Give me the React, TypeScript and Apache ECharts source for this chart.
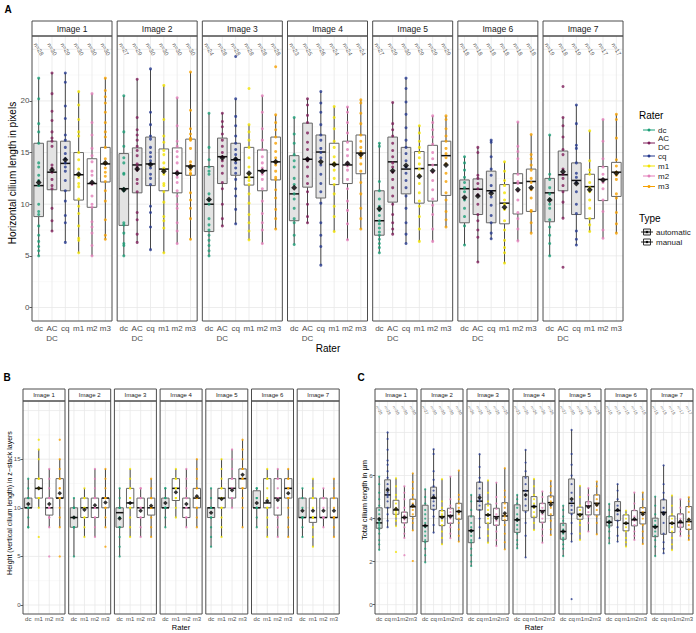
import React, { useEffect, useRef } from "react";
import * as echarts from "echarts";

const IMAGES = ["Image 1", "Image 2", "Image 3", "Image 4", "Image 5", "Image 6", "Image 7"];
const RATERS_A = ["dc", "AC\nDC", "cq", "m1", "m2", "m3"];
const RATERS_B = ["dc", "m1", "m2", "m3"];
const RATERS_C = ["dc", "cq", "m1", "m2", "m3"];
const RATER_COLORS: Record<string, string> = {
  dc: "#1B9E77", "AC\nDC": "#7E1E5A", cq: "#25398E", m1: "#F2E300", m2: "#E27EB9", m3: "#F6A000",
};
const AUTOMATIC = ["dc", "AC\nDC", "cq"];
const TYPES = ["automatic", "manual"];

const A_TICKS = [0, 5, 10, 15, 20, 25];
const A_MINOR = [2.5, 7.5, 12.5, 17.5, 22.5];
const B_TICKS = [0, 5, 10, 15, 20];
const B_MINOR = [2.5, 7.5, 12.5, 17.5];
const C_TICKS = [0, 2, 4, 6, 8];
const C_MINOR = [1, 3, 5, 7, 9];

// [lower whisker, Q1, median, Q3, upper whisker]
const A_STATS = [
  [[5.0, 8.8, 11.8, 15.9, 22.2], [7.4, 11.4, 13.1, 16.1, 22.7], [6.3, 11.3, 13.95, 16.1, 22.7], [5.3, 10.4, 12.85, 15.0, 20.9], [5.0, 9.7, 12.0, 14.4, 20.7], [6.6, 12.15, 13.9, 15.5, 22.2]],
  [[5.0, 7.95, 11.5, 14.9, 20.5], [6.3, 11.1, 13.8, 15.45, 22.1], [5.6, 11.8, 13.9, 16.5, 23.1], [5.3, 11.3, 13.4, 15.35, 21.5], [6.2, 11.1, 13.0, 15.45, 20.3], [6.6, 12.8, 13.7, 16.3, 22.8]],
  [[5.0, 7.35, 10.0, 13.65, 18.8], [7.9, 12.0, 14.6, 16.4, 18.8], [8.1, 12.8, 14.3, 15.9, 20.2], [6.55, 11.85, 12.6, 15.5, 17.7], [6.2, 11.3, 13.25, 15.25, 20.5], [7.6, 12.35, 14.1, 16.5, 18.65]],
  [[6.1, 8.4, 11.0, 14.7, 18.4], [8.2, 11.65, 14.35, 17.85, 20.2], [4.1, 10.6, 15.05, 16.7, 20.9], [7.35, 11.9, 13.85, 15.9, 19.45], [6.55, 12.0, 13.8, 16.1, 19.4], [7.6, 12.95, 14.95, 16.7, 20.1]],
  [[5.3, 7.0, 8.4, 11.3, 15.9], [7.1, 10.2, 14.1, 16.5, 19.85], [6.2, 11.0, 13.4, 15.5, 22.2], [6.4, 10.1, 13.45, 15.1, 17.6], [6.4, 10.3, 13.8, 15.7, 18.55], [7.8, 10.85, 14.7, 16.1, 18.55]],
  [[6.05, 8.2, 11.5, 12.35, 14.6], [4.4, 9.0, 11.45, 12.45, 15.5], [6.65, 8.2, 11.3, 13.2, 16.2], [4.3, 8.1, 10.1, 11.9, 14.1], [6.45, 9.05, 12.05, 12.95, 17.95], [7.2, 9.3, 12.2, 13.4, 16.75]],
  [[5.0, 8.3, 11.1, 12.5, 16.7], [8.65, 11.3, 12.85, 15.15, 18.4], [6.05, 9.0, 12.3, 14.0, 19.6], [7.35, 8.6, 11.7, 12.9, 17.1], [6.7, 10.35, 12.4, 13.65, 18.2], [7.2, 10.75, 13.1, 14.05, 18.7]],
];
const A_MEANS = [
  [12.1, 13.3, 14.3, 12.9, 12.1, 14.0],
  [11.4, 13.4, 13.85, 13.2, 13.0, 13.6],
  [10.45, 14.5, 14.35, 13.0, 13.2, 14.1],
  [11.6, 14.35, 14.1, 13.85, 13.95, 14.8],
  [9.55, 13.25, 13.75, 12.7, 13.25, 13.8],
  [10.65, 10.8, 11.05, 9.7, 11.4, 11.6],
  [10.4, 13.15, 12.0, 11.4, 12.35, 13.0],
];
const A_N = [
  [28, 30, 29, 30, 30, 30],
  [27, 29, 30, 30, 30, 30],
  [24, 28, 28, 28, 28, 28],
  [23, 25, 26, 24, 24, 24],
  [27, 29, 30, 29, 29, 29],
  [18, 18, 18, 18, 18, 18],
  [19, 18, 19, 19, 17, 17],
];
const A_POINTS = [
  [
    [22.2, 20.2, 17.8, 17.0, 15.9, 14.0, 13.6, 12.8, 12.3, 11.8, 10.0, 9.3, 9.0, 7.9, 7.0, 6.4, 5.9, 5.5, 5.0],
    [22.7, 20.7, 19.0, 18.1, 17.0, 16.4, 16.1, 15.6, 13.8, 13.5, 13.1, 12.4, 11.8, 11.5, 9.6, 8.4, 7.4],
    [22.7, 21.8, 19.5, 18.3, 16.7, 16.2, 15.5, 14.9, 14.4, 14.0, 13.6, 13.2, 12.3, 11.3, 10.3, 8.9, 8.2, 6.3],
    [20.9, 19.6, 18.2, 17.0, 16.6, 15.0, 14.3, 13.4, 12.9, 12.6, 12.0, 11.7, 10.5, 9.8, 9.1, 7.9, 6.7, 6.5, 5.3],
    [20.7, 17.9, 16.7, 15.4, 14.7, 14.1, 13.2, 12.8, 12.1, 11.9, 10.8, 10.0, 9.7, 8.3, 7.8, 7.2, 6.0, 5.0],
    [22.2, 21.0, 20.4, 19.8, 18.9, 17.9, 17.0, 16.5, 15.5, 14.4, 14.0, 13.5, 13.1, 12.7, 12.2, 11.3, 10.3, 8.5, 7.0, 6.6],
  ],
  [
    [20.5, 17.0, 15.6, 14.5, 14.0, 13.0, 12.9, 11.5, 11.3, 8.2, 8.0, 7.2, 6.2, 6.0, 5.0],
    [22.1, 18.4, 17.2, 16.7, 16.2, 15.6, 15.2, 14.7, 13.9, 13.6, 13.3, 12.4, 12.0, 11.2, 9.2, 8.5, 7.1, 6.3],
    [23.1, 18.9, 17.7, 16.6, 16.3, 15.5, 15.0, 14.6, 14.2, 13.9, 13.5, 12.9, 12.5, 11.9, 9.8, 9.2, 7.8, 5.6],
    [21.5, 18.2, 16.6, 16.0, 15.2, 14.8, 14.0, 13.5, 13.2, 12.9, 12.0, 11.8, 11.2, 10.2, 8.8, 8.4, 7.7, 5.3],
    [20.3, 17.6, 16.1, 15.6, 15.1, 14.6, 14.0, 13.2, 12.9, 12.6, 12.1, 11.3, 10.8, 10.0, 9.6, 8.2, 7.4, 6.2],
    [22.8, 19.1, 17.3, 16.8, 16.4, 16.3, 16.2, 15.4, 14.1, 13.8, 13.6, 13.3, 13.0, 12.9, 11.1, 10.4, 9.6, 8.6, 6.6],
  ],
  [
    [18.8, 15.5, 14.3, 13.6, 13.2, 12.9, 11.0, 10.4, 10.0, 8.6, 8.0, 7.5, 7.0, 6.5, 6.0, 5.5, 5.0],
    [18.8, 18.0, 17.5, 16.8, 16.2, 15.6, 15.0, 14.6, 14.2, 13.7, 13.0, 12.1, 11.5, 10.0, 8.6, 7.9],
    [24.3, 20.2, 18.5, 17.6, 16.6, 15.9, 15.3, 14.8, 14.4, 14.0, 13.5, 13.0, 12.4, 11.5, 10.8, 9.5, 8.1],
    [21.2, 17.7, 17.0, 16.2, 15.5, 14.5, 13.6, 12.9, 12.6, 12.3, 11.9, 11.0, 10.1, 9.0, 8.2, 7.4, 6.55],
    [20.5, 18.9, 17.3, 16.2, 15.3, 14.6, 14.0, 13.5, 13.2, 12.9, 12.4, 11.5, 10.3, 9.1, 8.2, 7.5, 6.2],
    [23.3, 18.65, 17.9, 17.2, 16.5, 15.9, 15.1, 14.5, 14.1, 13.8, 13.2, 12.6, 12.4, 11.4, 10.6, 9.5, 8.6, 7.6],
  ],
  [
    [18.4, 16.8, 15.9, 14.8, 14.2, 13.6, 12.5, 11.9, 11.0, 10.5, 9.6, 8.6, 8.2, 7.0, 6.1],
    [20.2, 19.6, 18.6, 17.9, 16.9, 16.0, 15.3, 14.4, 14.2, 13.6, 12.7, 12.0, 11.2, 10.0, 8.8, 8.2],
    [20.9, 19.8, 18.9, 17.7, 16.7, 16.2, 15.4, 15.0, 14.5, 13.8, 12.9, 12.0, 11.2, 10.1, 8.2, 7.0, 5.9, 4.1],
    [19.45, 18.4, 17.3, 16.1, 15.5, 14.6, 14.0, 13.8, 13.3, 12.5, 11.9, 11.0, 9.8, 8.8, 7.35],
    [19.4, 18.9, 17.9, 16.9, 16.0, 15.3, 14.7, 14.0, 13.7, 13.3, 12.4, 11.5, 10.3, 9.4, 8.1, 6.55],
    [20.1, 19.8, 18.8, 17.8, 16.7, 16.1, 15.5, 15.1, 14.8, 14.5, 13.9, 13.2, 12.1, 11.0, 9.6, 8.6, 7.6],
  ],
  [
    [15.9, 15.6, 12.2, 11.3, 10.5, 9.8, 9.4, 8.9, 8.4, 8.1, 7.7, 7.3, 7.0, 6.6, 6.2, 5.8, 5.3],
    [19.85, 17.8, 17.2, 16.6, 15.9, 15.2, 14.6, 14.0, 13.6, 13.1, 12.4, 11.6, 10.8, 10.0, 9.0, 8.2, 7.6, 7.1],
    [22.2, 21.2, 19.9, 18.7, 17.4, 16.2, 15.5, 14.9, 14.2, 13.6, 13.0, 12.3, 11.6, 10.8, 9.6, 8.2, 7.1, 6.2],
    [17.6, 16.9, 16.1, 15.5, 15.0, 14.5, 13.9, 13.4, 12.8, 12.0, 11.1, 10.3, 9.8, 8.8, 7.6, 6.4],
    [18.55, 17.9, 17.2, 16.5, 15.8, 15.0, 14.4, 13.8, 13.1, 12.3, 11.4, 10.5, 9.9, 9.0, 7.6, 6.4],
    [18.55, 18.2, 17.3, 16.6, 16.1, 15.4, 14.9, 14.5, 13.9, 13.0, 12.2, 11.1, 10.4, 9.3, 8.5, 7.8],
  ],
  [
    [14.6, 14.0, 13.3, 12.6, 12.1, 11.6, 11.2, 10.4, 9.6, 8.8, 7.9, 6.05],
    [15.5, 15.0, 12.8, 12.5, 12.0, 11.5, 10.9, 10.0, 9.0, 8.4, 7.5, 6.8, 4.4],
    [16.2, 16.0, 14.6, 13.4, 12.8, 11.8, 11.2, 10.7, 9.9, 8.9, 8.2, 7.2, 6.65],
    [14.1, 13.2, 12.3, 11.8, 11.1, 10.4, 10.0, 9.5, 8.4, 7.5, 6.5, 5.8, 5.3, 4.3],
    [17.95, 15.6, 15.1, 14.4, 12.9, 12.2, 12.0, 11.3, 10.4, 9.2, 8.6, 7.6, 6.45],
    [16.75, 14.8, 14.4, 13.8, 13.3, 12.5, 12.1, 11.4, 10.6, 9.4, 9.3, 8.2, 7.2],
  ],
  [
    [16.7, 12.9, 12.4, 11.6, 11.0, 10.5, 10.0, 9.6, 8.5, 7.8, 7.0, 6.2, 5.0],
    [21.4, 18.4, 17.6, 16.5, 15.3, 14.8, 13.4, 12.9, 12.5, 11.8, 11.2, 10.2, 8.65, 3.9],
    [19.6, 17.8, 15.7, 15.4, 14.0, 13.0, 12.6, 12.1, 11.2, 10.0, 9.1, 7.4, 6.6, 6.05],
    [17.1, 14.2, 13.3, 12.9, 12.1, 11.6, 11.2, 10.4, 9.6, 8.6, 8.0, 7.35],
    [18.2, 16.1, 14.4, 13.6, 12.9, 12.4, 12.1, 11.5, 10.4, 9.3, 7.5, 6.7],
    [18.7, 18.2, 16.4, 14.3, 13.7, 13.1, 12.8, 12.4, 11.0, 10.6, 9.2, 8.1, 7.2],
  ],
];

const B_STATS = [
  [[8, 10, 10, 11, 13], [10, 11, 12, 13, 16], [8, 9.25, 10, 11, 14], [8, 11, 11, 13, 15]],
  [[5, 8, 9, 10, 11], [7, 9, 10, 11, 12], [7, 9, 10, 11, 14], [8, 10, 11, 11, 14]],
  [[5, 8, 9.5, 10, 12], [7, 10, 10.5, 12, 14], [7, 9, 10, 11, 12], [7, 9.25, 10, 11, 13]],
  [[8, 10, 10, 11, 12], [9, 10.75, 12, 13, 14], [8, 9, 10, 11, 14], [8, 10, 11, 12, 15]],
  [[6, 9, 10, 10, 12], [7, 10, 11, 12, 15], [10, 11, 12, 13, 16], [8, 12, 13, 14, 17]],
  [[8, 10, 10, 11.75, 12], [7, 10, 10.5, 13, 14], [7, 9.25, 11, 13, 14], [7, 11, 12, 13, 14]],
  [[7, 9, 9, 11, 12], [6, 8.5, 9, 11, 13], [8, 9, 9, 11, 12], [7, 9, 9, 11, 13]],
];
const B_MEANS = [
  [10.4, 12.0, 10.4, 11.5],
  [9.0, 9.8, 10.25, 10.55],
  [8.9, 10.5, 9.7, 10.2],
  [10.5, 11.6, 10.4, 11.2],
  [9.5, 10.9, 11.8, 13.4],
  [10.5, 10.7, 10.8, 11.5],
  [9.7, 9.7, 9.7, 9.7],
];
const B_POINTS = [
  [[13, 12, 11, 11, 10, 10, 10, 9, 8, 8], [17, 16, 15, 13, 13, 12, 12, 12, 11, 11, 10, 7], [14, 13, 12, 11, 11, 10, 10, 10, 9, 9, 8, 5], [17, 15, 14, 13, 13, 12, 12, 11, 11, 11, 10, 9, 8, 5]],
  [[11, 10, 10, 10, 9, 9, 8, 8, 8, 5], [12, 11, 11, 10, 10, 9, 9, 8, 7], [14, 13, 12, 11, 11, 10, 10, 9, 9, 8, 7], [14, 13, 12, 11, 11, 11, 10, 10, 9, 8, 6]],
  [[12, 11, 10, 10, 10, 9, 9, 8, 8, 7, 6, 5], [14, 13, 12, 12, 11, 11, 10, 10, 9, 8, 7], [12, 12, 11, 11, 10, 10, 9, 9, 8, 7], [13, 12, 11, 11, 10, 10, 10, 9, 8, 7]],
  [[12, 12, 11, 11, 10, 10, 10, 9, 8], [14, 13, 13, 12, 12, 11, 11, 10, 9], [14, 13, 12, 11, 11, 10, 10, 9, 9, 8], [15, 14, 13, 12, 12, 11, 11, 10, 10, 9, 8]],
  [[12, 11, 10, 10, 10, 9, 9, 8, 7, 6], [15, 14, 13, 12, 12, 11, 11, 10, 10, 9, 8, 7], [16, 15, 14, 13, 13, 12, 12, 11, 11, 10], [17, 16, 15, 14, 14, 13, 13, 12, 12, 11, 10, 8]],
  [[12, 12, 11, 11, 10, 10, 10, 9, 8], [14, 13, 13, 12, 11, 10, 10, 9, 8, 7], [14, 13, 13, 12, 11, 11, 10, 9, 8, 7], [14, 13, 13, 12, 12, 11, 11, 10, 9, 8, 7]],
  [[12, 11, 10, 9, 9, 9, 8, 7], [13, 12, 11, 11, 10, 9, 9, 9, 8, 7, 6], [12, 11, 11, 10, 9, 9, 9, 8], [13, 12, 11, 11, 10, 9, 9, 9, 8, 7]],
];

const C_STATS = [
  [[2.55, 3.55, 3.8, 4.5, 5.95], [3.6, 4.5, 5.1, 5.8, 8.0], [3.65, 4.2, 4.4, 4.85, 5.87], [3.1, 3.8, 4.05, 4.3, 5.5], [3.45, 4.1, 4.55, 4.9, 6.1]],
  [[1.97, 2.93, 3.67, 4.62, 5.36], [3.35, 4.43, 4.95, 5.46, 7.22], [2.81, 3.67, 4.09, 4.37, 5.83], [3.09, 3.78, 4.14, 4.48, 5.95], [2.93, 3.97, 4.33, 4.71, 6.23]],
  [[1.8, 2.88, 3.44, 4.12, 5.1], [3.09, 4.4, 4.81, 5.69, 6.99], [2.88, 3.78, 4.17, 4.67, 5.77], [2.73, 3.69, 4.09, 4.48, 5.67], [2.57, 3.91, 4.12, 4.74, 6.34]],
  [[2.62, 3.36, 3.94, 4.64, 5.1], [2.2, 4.36, 5.29, 5.95, 7.19], [3.47, 4.06, 4.56, 5.02, 5.84], [2.88, 3.83, 4.37, 4.71, 5.26], [3.24, 4.14, 4.74, 5.05, 5.75]],
  [[2.26, 3.04, 3.4, 3.78, 4.6], [2.93, 4.25, 4.71, 5.84, 8.12], [3.01, 3.97, 4.2, 4.53, 5.52], [3.4, 4.17, 4.59, 4.78, 5.41], [3.27, 4.17, 4.71, 5.1, 5.72]],
  [[2.85, 3.66, 3.83, 4.09, 4.68], [2.93, 3.91, 4.37, 4.79, 5.6], [2.7, 3.43, 3.78, 4.17, 4.37], [3.01, 3.66, 3.94, 4.37, 5.21], [2.82, 3.75, 4.28, 4.51, 5.21]],
  [[2.26, 3.16, 3.63, 4.02, 5.02], [2.39, 3.27, 4.29, 4.87, 6.47], [2.54, 3.35, 3.78, 4.12, 5.07], [3.19, 3.6, 3.81, 4.22, 4.9], [3.01, 3.5, 3.86, 4.56, 4.99]],
];
const C_MEANS = [
  [3.98, 5.33, 4.45, 4.05, 4.6],
  [3.67, 4.99, 4.05, 4.1, 4.33],
  [3.44, 4.98, 4.17, 4.02, 4.25],
  [3.94, 5.1, 4.56, 4.3, 4.64],
  [3.4, 4.91, 4.17, 4.54, 4.64],
  [3.83, 4.4, 3.78, 3.98, 4.2],
  [3.6, 4.22, 3.78, 3.86, 3.94],
];
const C_N = [
  [28, 29, 30, 30, 30],
  [27, 30, 30, 30, 30],
  [24, 28, 28, 28, 28],
  [23, 26, 24, 24, 24],
  [27, 30, 29, 29, 29],
  [18, 18, 18, 18, 18],
  [19, 19, 19, 17, 17],
];
const C_POINTS = [
  [
    [5.95, 5.6, 5.2, 4.9, 4.6, 4.4, 4.2, 4.0, 3.9, 3.8, 3.7, 3.6, 3.5, 3.3, 3.0, 2.8, 2.55],
    [8.0, 7.7, 7.2, 6.7, 6.5, 6.2, 5.9, 5.6, 5.4, 5.2, 5.1, 5.0, 4.8, 4.5, 4.2, 3.9, 3.6],
    [5.87, 5.5, 5.1, 4.9, 4.7, 4.5, 4.4, 4.3, 4.2, 4.1, 3.9, 3.65, 2.45],
    [5.5, 5.2, 4.9, 4.5, 4.3, 4.15, 4.05, 3.95, 3.8, 3.6, 3.3, 3.1, 2.3],
    [6.1, 5.7, 5.4, 5.1, 4.9, 4.7, 4.55, 4.4, 4.2, 4.0, 3.8, 3.45, 2.03],
  ],
  [
    [5.36, 5.0, 4.7, 4.4, 4.2, 4.0, 3.8, 3.6, 3.4, 3.2, 3.0, 2.9, 2.6, 2.3, 1.97],
    [7.22, 7.0, 6.2, 5.8, 5.5, 5.3, 5.1, 4.95, 4.8, 4.6, 4.4, 4.1, 3.7, 3.35],
    [5.83, 4.8, 4.5, 4.35, 4.2, 4.1, 3.9, 3.7, 3.4, 3.1, 2.81],
    [5.95, 4.9, 4.6, 4.45, 4.3, 4.15, 4.0, 3.8, 3.6, 3.3, 3.09],
    [6.23, 5.1, 4.9, 4.7, 4.5, 4.35, 4.2, 4.0, 3.8, 3.5, 3.2, 2.93],
  ],
  [
    [5.1, 4.8, 4.4, 4.1, 3.8, 3.6, 3.4, 3.2, 3.0, 2.9, 2.6, 2.3, 2.0, 1.8],
    [6.99, 6.4, 5.9, 5.7, 5.4, 5.1, 4.9, 4.8, 4.6, 4.4, 4.0, 3.6, 3.09],
    [5.77, 5.2, 4.8, 4.6, 4.4, 4.2, 4.0, 3.8, 3.5, 3.2, 2.88],
    [5.67, 5.0, 4.7, 4.45, 4.2, 4.05, 3.9, 3.7, 3.4, 3.0, 2.73],
    [6.34, 5.3, 5.0, 4.7, 4.5, 4.2, 4.1, 3.95, 3.7, 3.3, 2.9, 2.57],
  ],
  [
    [5.1, 4.9, 4.7, 4.5, 4.2, 4.0, 3.9, 3.7, 3.5, 3.3, 3.0, 2.8, 2.62],
    [7.19, 6.6, 6.2, 5.9, 5.6, 5.3, 5.1, 4.9, 4.6, 4.3, 3.8, 3.2, 2.2],
    [5.84, 5.5, 5.1, 4.9, 4.7, 4.5, 4.3, 4.1, 3.8, 3.47],
    [5.26, 5.0, 4.7, 4.5, 4.35, 4.2, 4.0, 3.8, 3.5, 3.2, 2.88],
    [5.75, 5.5, 5.2, 5.0, 4.8, 4.7, 4.5, 4.2, 3.9, 3.5, 3.24],
  ],
  [
    [4.6, 4.4, 4.1, 3.9, 3.7, 3.5, 3.4, 3.3, 3.1, 3.0, 2.8, 2.6, 2.26],
    [8.12, 7.0, 6.5, 6.0, 5.6, 5.2, 4.8, 4.6, 4.4, 4.2, 3.8, 3.3, 2.93, 0.26],
    [5.52, 5.0, 4.6, 4.4, 4.2, 4.1, 3.9, 3.7, 3.3, 3.01],
    [5.41, 5.1, 4.8, 4.7, 4.6, 4.5, 4.3, 4.1, 3.8, 3.4],
    [5.72, 5.5, 5.1, 4.9, 4.7, 4.6, 4.4, 4.1, 3.8, 3.27],
  ],
  [
    [4.68, 4.4, 4.1, 3.9, 3.8, 3.7, 3.6, 3.4, 3.1, 2.85],
    [5.6, 5.3, 4.9, 4.6, 4.4, 4.2, 3.9, 3.6, 3.2, 2.93],
    [4.37, 4.2, 4.0, 3.8, 3.6, 3.4, 3.1, 2.9, 2.7],
    [5.21, 4.7, 4.4, 4.1, 3.9, 3.7, 3.4, 3.2, 3.01],
    [5.21, 4.9, 4.5, 4.3, 4.2, 4.0, 3.7, 3.4, 3.1, 2.82],
  ],
  [
    [5.02, 4.6, 4.2, 3.9, 3.7, 3.6, 3.4, 3.2, 3.0, 2.7, 2.26],
    [6.47, 5.6, 5.2, 4.9, 4.5, 4.3, 4.2, 3.8, 3.3, 2.9, 2.6, 2.39],
    [5.07, 4.6, 4.2, 4.0, 3.8, 3.6, 3.4, 3.1, 2.8, 2.54],
    [4.9, 4.5, 4.2, 4.0, 3.85, 3.7, 3.6, 3.4, 3.19],
    [4.99, 4.8, 4.55, 4.3, 4.0, 3.85, 3.7, 3.5, 3.2, 3.01],
  ],
];

const FONT = "'Liberation Sans', Arial, Helvetica, sans-serif";

type Panel = {
  raters: string[]; stats: number[][][]; means: number[][]; points: number[][][]; ns: number[][] | null;
  major: number[]; minor: number[]; tickStep: number;
  left0: number; step: number; width: number; top: number; zeroY: number; bottom: number; stripTop: number;
  pxPerUnit: number; nY: number; stripFont: number; tickFont: number; nFont: number;
  ptSize: number; meanSize: number; labelMargin: number; lineHeight: number; boxFrac: number;
};

const PANELS: Panel[] = [
  {
    raters: RATERS_A, stats: A_STATS, means: A_MEANS, points: A_POINTS, ns: A_N,
    major: A_TICKS, minor: A_MINOR, tickStep: 5,
    left0: 32, step: 85.17, width: 80, top: 36, zeroY: 307.5, bottom: 321, stripTop: 21,
    pxPerUnit: 10.33, nY: 25.0, stripFont: 8.5, tickFont: 8, nFont: 6,
    ptSize: 3, meanSize: 6, labelMargin: 15.5, lineHeight: 10, boxFrac: 0.72,
  },
  {
    raters: RATERS_B, stats: B_STATS, means: B_MEANS, points: B_POINTS, ns: null,
    major: B_TICKS, minor: B_MINOR, tickStep: 5,
    left0: 23, step: 45.7, width: 42, top: 401, zeroY: 605, bottom: 614, stripTop: 389,
    pxPerUnit: 9.72, nY: 0, stripFont: 6, tickFont: 6, nFont: 4,
    ptSize: 2.3, meanSize: 4.5, labelMargin: 10.5, lineHeight: 7, boxFrac: 0.7,
  },
  {
    raters: RATERS_C, stats: C_STATS, means: C_MEANS, points: C_POINTS, ns: C_N,
    major: C_TICKS, minor: C_MINOR, tickStep: 2,
    left0: 375, step: 46, width: 42, top: 401, zeroY: 604.7, bottom: 614, stripTop: 389,
    pxPerUnit: 21.53, nY: 9.04, stripFont: 6, tickFont: 6, nFont: 4.2,
    ptSize: 2.2, meanSize: 4.5, labelMargin: 11, lineHeight: 7, boxFrac: 0.7,
  },
];

function buildOption() {
  const grid: any[] = [];
  const xAxis: any[] = [];
  const yAxis: any[] = [];
  const series: any[] = [];
  const graphic: any[] = [];
  let g = 0;

  PANELS.forEach((P) => {
    const yMax = (P.zeroY - P.top) / P.pxPerUnit;
    IMAGES.forEach((img, i) => {
      const left = P.left0 + P.step * i;
      grid.push({ left, top: P.top, width: P.width, height: P.zeroY - P.top, containLabel: false });
      xAxis.push({
        type: "category", gridIndex: g, data: P.raters,
        axisLine: { show: false }, axisTick: { show: false }, splitLine: { show: false },
        axisLabel: { interval: 0, margin: P.labelMargin, fontSize: P.tickFont, color: "#4d4d4d", lineHeight: P.lineHeight, fontFamily: FONT },
      });
      yAxis.push({
        type: "value", gridIndex: g, min: 0, max: yMax, interval: P.tickStep,
        axisLine: { show: false }, splitLine: { show: false },
        axisTick: { show: i === 0, length: 2.5, lineStyle: { color: "#333", width: 0.8 }, customValues: P.major },
        axisLabel: { show: i === 0, showMaxLabel: false, margin: 2.5, fontSize: P.tickFont, color: "#4d4d4d", fontFamily: FONT, customValues: P.major },
      });

      const bottomPx = P.bottom;
      // gridlines
      series.push({
        type: "custom", xAxisIndex: g, yAxisIndex: g, silent: true, z: 1, clip: false,
        data: [[0, 0]],
        renderItem: (params: any, api: any) => {
          const cs = params.coordSys;
          const ch: any[] = [];
          P.minor.forEach((v) => {
            if (v > yMax) return;
            const y = api.coord([0, v])[1];
            ch.push({ type: "line", shape: { x1: cs.x, y1: y, x2: cs.x + cs.width, y2: y }, style: { stroke: "#f2f2f2", lineWidth: 0.5 } });
          });
          P.major.forEach((v) => {
            const y = api.coord([0, v])[1];
            ch.push({ type: "line", shape: { x1: cs.x, y1: y, x2: cs.x + cs.width, y2: y }, style: { stroke: "#e8e8e8", lineWidth: 0.8 } });
          });
          P.raters.forEach((_, k) => {
            const x = api.coord([k, 0])[0];
            ch.push({ type: "line", shape: { x1: x, y1: cs.y, x2: x, y2: bottomPx }, style: { stroke: "#e8e8e8", lineWidth: 0.8 } });
          });
          return { type: "group", children: ch };
        },
      });
      // boxes
      const stats = P.stats[i];
      series.push({
        type: "custom", xAxisIndex: g, yAxisIndex: g, silent: true, z: 2, clip: false,
        encode: { x: 0, y: [1, 2, 3, 4, 5] },
        data: P.raters.map((r, k) => [k, ...stats[k], AUTOMATIC.includes(r) ? 1 : 0]),
        renderItem: (params: any, api: any) => {
          const k = api.value(0);
          const lo = api.coord([k, api.value(1)]);
          const q1 = api.coord([k, api.value(2)]);
          const md = api.coord([k, api.value(3)]);
          const q3 = api.coord([k, api.value(4)]);
          const hi = api.coord([k, api.value(5)]);
          const auto = api.value(6) === 1;
          const hw = (api.size([1, 0])[0] * P.boxFrac) / 2;
          const cx = q1[0];
          return {
            type: "group",
            children: [
              { type: "line", shape: { x1: cx, y1: q3[1], x2: cx, y2: hi[1] }, style: { stroke: "#474747", lineWidth: 1 } },
              { type: "line", shape: { x1: cx, y1: q1[1], x2: cx, y2: lo[1] }, style: { stroke: "#474747", lineWidth: 1 } },
              { type: "rect", shape: { x: cx - hw, y: q3[1], width: hw * 2, height: q1[1] - q3[1] }, style: { fill: auto ? "#e3e3e3" : "#ffffff", stroke: "#666666", lineWidth: 1 } },
              { type: "line", shape: { x1: cx - hw, y1: md[1], x2: cx + hw, y2: md[1] }, style: { stroke: "#111111", lineWidth: 1.5 } },
            ],
          };
        },
      });
      // points
      const pts: any[] = [];
      P.points[i].forEach((arr, k) => {
        arr.forEach((v) => pts.push({ value: [k, v], itemStyle: { color: RATER_COLORS[P.raters[k]] } }));
      });
      series.push({
        type: "scatter", xAxisIndex: g, yAxisIndex: g, silent: true, z: 3,
        symbolSize: P.ptSize, data: pts,
      });
      // means
      series.push({
        type: "scatter", xAxisIndex: g, yAxisIndex: g, silent: true, z: 4,
        symbol: "diamond", symbolSize: P.meanSize, itemStyle: { color: "#000" },
        data: P.means[i].map((v, k) => [k, v]),
      });
      // n labels
      if (P.ns) {
        const ns = P.ns[i];
        series.push({
          type: "scatter", xAxisIndex: g, yAxisIndex: g, silent: true, z: 4,
          symbolSize: 0.1, itemStyle: { color: "rgba(0,0,0,0)" },
          data: ns.map((_, k) => [k, P.nY]),
          label: {
            show: true, position: "inside", rotate: -60, fontSize: P.nFont, color: "#333", fontFamily: FONT,
            formatter: (p: any) => "n=" + ns[p.dataIndex],
          },
        });
      }

      // strip and border
      graphic.push({
        type: "rect", z: 100, silent: true,
        shape: { x: left, y: P.stripTop, width: P.width, height: P.top - P.stripTop },
        style: { fill: "#ffffff", stroke: "#4d4d4d", lineWidth: 1 },
      });
      graphic.push({
        type: "text", z: 101, silent: true, x: left + P.width / 2, y: (P.stripTop + P.top) / 2,
        style: { text: img, fontSize: P.stripFont, fontFamily: FONT, fill: "#1a1a1a", align: "center", verticalAlign: "middle" },
      });
      graphic.push({
        type: "rect", z: 100, silent: true,
        shape: { x: left, y: P.top, width: P.width, height: P.bottom - P.top },
        style: { fill: "none", stroke: "#4d4d4d", lineWidth: 1 },
      });
      g++;
    });
  });

  const txt = (text: string, x: number, y: number, fontSize: number, extra: any = {}) => ({
    type: "text", x, y, silent: true, z: 101, ...extra,
    style: { text, fontSize, fontFamily: FONT, fill: "#000", align: "center", verticalAlign: "middle", ...(extra.style || {}) },
  });

  graphic.push(txt("A", 8, 9, 10, { style: { fontWeight: "bold", align: "center" } }));
  graphic.push(txt("B", 7, 377, 10, { style: { fontWeight: "bold" } }));
  graphic.push(txt("C", 361, 377, 10, { style: { fontWeight: "bold" } }));

  graphic.push(txt("Horizontal cilium length in pixels", 12, 173, 10, { rotation: Math.PI / 2 }));
  graphic.push(txt("Rater", 328, 348, 10));
  graphic.push(txt("Height (vertical cilium length) in z\u2212stack layers", 9, 503, 7, { rotation: Math.PI / 2 }));
  graphic.push(txt("Rater", 181, 627, 7.5));
  graphic.push(txt("Total cilium length in \u00b5m", 364, 500, 7.5, { rotation: Math.PI / 2 }));
  graphic.push(txt("Rater", 534, 627, 7.5));

  // Legend: Rater
  graphic.push(txt("Rater", 639, 115, 10, { style: { align: "left" } }));
  const legY = [130, 143, 156, 166, 176, 186.5];
  RATERS_A.forEach((r, k) => {
    const y = legY[k];
    graphic.push({ type: "line", silent: true, z: 101, shape: { x1: 643, y1: y, x2: 655, y2: y }, style: { stroke: RATER_COLORS[r], lineWidth: 1 } });
    graphic.push({ type: "circle", silent: true, z: 102, shape: { cx: 649, cy: y, r: 1.5 }, style: { fill: RATER_COLORS[r] } });
    graphic.push(txt(r, 658, y, 8, { style: { align: "left", fill: "#1a1a1a", lineHeight: 9.4 } }));
  });
  // Legend: Type
  graphic.push(txt("Type", 639, 218, 10, { style: { align: "left" } }));
  const typeY = [232, 242];
  TYPES.forEach((t, k) => {
    const y = typeY[k];
    graphic.push({ type: "line", silent: true, z: 101, shape: { x1: 641, y1: y, x2: 653, y2: y }, style: { stroke: "#333", lineWidth: 1 } });
    graphic.push({ type: "rect", silent: true, z: 102, shape: { x: 643.5, y: y - 3, width: 7, height: 6 }, style: { fill: k === 0 ? "#e3e3e3" : "#ffffff", stroke: "#333", lineWidth: 1 } });
    graphic.push({ type: "line", silent: true, z: 103, shape: { x1: 643.5, y1: y, x2: 650.5, y2: y }, style: { stroke: "#111", lineWidth: 1.2 } });
    graphic.push({ type: "circle", silent: true, z: 103, shape: { cx: 647, cy: y, r: 1.2 }, style: { fill: "#000" } });
    graphic.push(txt(t, 656, y, 8, { style: { align: "left", fill: "#1a1a1a" } }));
  });

  return {
    animation: false,
    backgroundColor: "#ffffff",
    textStyle: { fontFamily: FONT },
    grid, xAxis, yAxis, series, graphic,
  };
}

export default function App() {
  const ref = useRef<HTMLDivElement>(null);
  useEffect(() => {
    if (!ref.current) return;
    const chart = echarts.init(ref.current, undefined, { renderer: "svg" });
    chart.setOption(buildOption() as any);
    return () => chart.dispose();
  }, []);
  return <div ref={ref} style={{ position: "absolute", left: 0, top: 0, width: 696, height: 633 }} />;
}
